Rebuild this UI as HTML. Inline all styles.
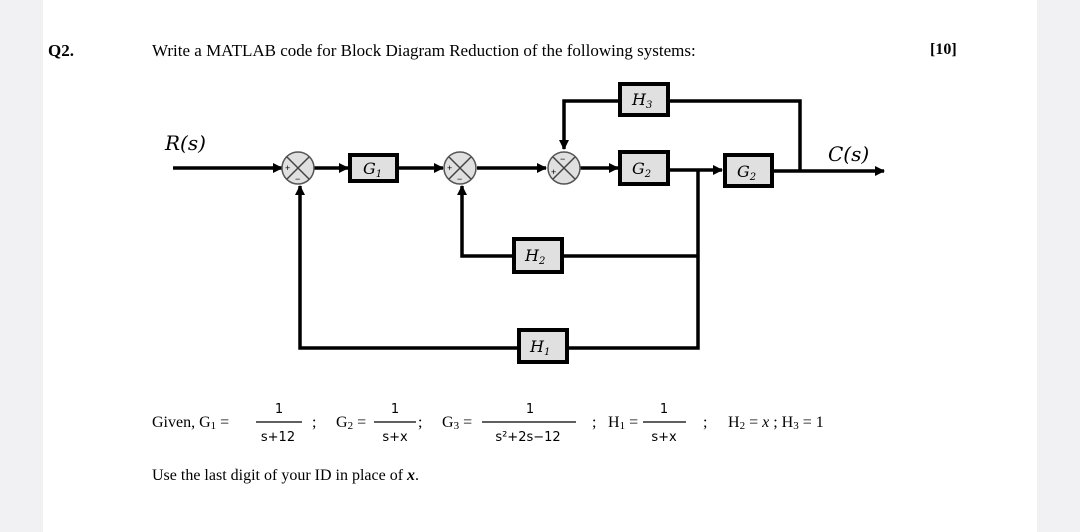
<!DOCTYPE html>
<html><head><meta charset="utf-8"><style>
html,body{margin:0;padding:0;background:#f1f1f3;}
svg{display:block}
</style></head><body>
<svg width="1080" height="532" viewBox="0 0 1080 532" xmlns="http://www.w3.org/2000/svg">
<defs>
<marker id="ar" markerWidth="10" markerHeight="10" refX="9" refY="5" orient="auto" markerUnits="userSpaceOnUse">
<path d="M0,0 L10,5 L0,10 z" fill="#000"/></marker>
</defs>
<rect x="43" y="0" width="994" height="532" fill="#fff"/>
<g font-family="Liberation Serif, serif" fill="#000">
<text x="48" y="56" font-size="17" font-weight="bold">Q2.</text>
<text x="152" y="56" font-size="17">Write a MATLAB code for Block Diagram Reduction of the following systems:</text>
<text x="930" y="54" font-size="16" font-weight="bold">[10]</text>
</g>
<g stroke="#000" stroke-width="3.5" fill="none">
<line x1="173" y1="168" x2="282" y2="168" marker-end="url(#ar)"/>
<line x1="314" y1="168" x2="348" y2="168" marker-end="url(#ar)"/>
<line x1="398" y1="168" x2="443" y2="168" marker-end="url(#ar)"/>
<line x1="477" y1="168" x2="546" y2="168" marker-end="url(#ar)"/>
<line x1="580" y1="168" x2="618" y2="168" marker-end="url(#ar)"/>
<line x1="669" y1="170" x2="722" y2="170" marker-end="url(#ar)"/>
<line x1="773" y1="171" x2="884" y2="171" marker-end="url(#ar)"/>
<polyline points="620,101 564,101 564,149" marker-end="url(#ar)"/>
<polyline points="669,101 800,101 800,171"/>
<polyline points="698,170 698,348 568,348"/>
<polyline points="698,256 563,256"/>
<polyline points="513,256 462,256 462,186" marker-end="url(#ar)"/>
<polyline points="518,348 300,348 300,186" marker-end="url(#ar)"/>
</g>
<g stroke="#000" stroke-width="4" fill="#e0e0e0">
<rect x="350" y="155" width="47" height="26"/>
<rect x="620" y="152" width="48" height="32"/>
<rect x="725" y="155" width="47" height="31"/>
<rect x="620" y="84" width="48" height="31"/>
<rect x="514" y="239" width="48" height="33"/>
<rect x="519" y="330" width="48" height="32"/>
</g>
<g stroke="#555" stroke-width="1.5" fill="#e0e0e0">
<circle cx="298" cy="168" r="16"/><circle cx="460" cy="168" r="16"/><circle cx="564" cy="168" r="16"/>
</g>
<g stroke="#444" stroke-width="1.5">
<path d="M287,157 L309,179 M309,157 L287,179"/>
<path d="M449,157 L471,179 M471,157 L449,179"/>
<path d="M553,157 L575,179 M575,157 L553,179"/>
</g>
<g font-family="Liberation Sans, sans-serif" font-size="9" fill="#000">
<text x="285" y="171">+</text><text x="295" y="182">−</text>
<text x="447" y="171">+</text><text x="457" y="182">−</text>
<text x="551" y="175">+</text><text x="560" y="162">−</text>
</g>
<g font-family="DejaVu Serif, serif" font-style="italic" font-size="16" fill="#000">
<text x="165" y="150" font-size="20">R(s)</text>
<text x="828" y="161" font-size="20">C(s)</text>
<text x="363" y="174">G<tspan font-size="10" dy="3">1</tspan></text>
<text x="632" y="174">G<tspan font-size="10" dy="3">2</tspan></text>
<text x="737" y="177">G<tspan font-size="10" dy="3">2</tspan></text>
<text x="632" y="105">H<tspan font-size="10" dy="3">3</tspan></text>
<text x="525" y="261">H<tspan font-size="10" dy="3">2</tspan></text>
<text x="530" y="352">H<tspan font-size="10" dy="3">1</tspan></text>
</g>
<g font-family="Liberation Serif, serif" font-size="16" fill="#000">
<text x="152" y="427">Given,  G<tspan font-size="11" dy="2">1</tspan><tspan dy="-2"> =</tspan></text>
<text x="312" y="427">;</text>
<text x="336" y="427">G<tspan font-size="11" dy="2">2</tspan><tspan dy="-2"> =</tspan></text>
<text x="418" y="427">;</text>
<text x="442" y="427">G<tspan font-size="11" dy="2">3</tspan><tspan dy="-2"> =</tspan></text>
<text x="592" y="427">;</text>
<text x="608" y="427">H<tspan font-size="11" dy="2">1</tspan><tspan dy="-2"> =</tspan></text>
<text x="703" y="427">;</text>
<text x="728" y="427">H<tspan font-size="11" dy="2">2</tspan><tspan dy="-2"> = </tspan><tspan font-style="italic">x</tspan>  ;  H<tspan font-size="11" dy="2">3</tspan><tspan dy="-2"> = 1</tspan></text>
<text x="152" y="480">Use the last digit of your ID in place of <tspan font-weight="bold" font-style="italic">x</tspan>.</text>
</g>
<g font-family="DejaVu Sans, sans-serif" font-size="13" fill="#000" text-anchor="middle">
<text x="279" y="413">1</text><text x="278" y="441">s+12</text>
<text x="395" y="413">1</text><text x="395" y="441">s+x</text>
<text x="530" y="413">1</text><text x="528" y="441">s²+2s−12</text>
<text x="664" y="413">1</text><text x="664" y="441">s+x</text>
</g>
<g stroke="#000" stroke-width="1.3">
<line x1="256" y1="422" x2="302" y2="422"/>
<line x1="374" y1="422" x2="416" y2="422"/>
<line x1="482" y1="422" x2="576" y2="422"/>
<line x1="643" y1="422" x2="686" y2="422"/>
</g>
</svg>
</body></html>
